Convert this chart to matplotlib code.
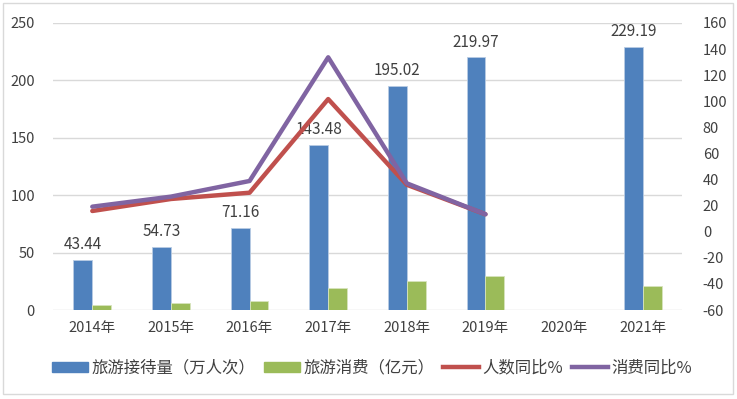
import numpy as np
import matplotlib.pyplot as plt
from matplotlib.patches import Rectangle
from matplotlib.lines import Line2D

plt.rcParams['font.family'] = ['Noto Sans CJK SC', 'DejaVu Sans']
plt.rcParams['axes.unicode_minus'] = False

years = ['2014年', '2015年', '2016年', '2017年', '2018年', '2019年', '2020年', '2021年']
visitors = [43.44, 54.73, 71.16, 143.48, 195.02, 219.97, np.nan, 229.19]   # 万人次
spending = [4.4, 5.8, 8.1, 19.2, 25.5, 29.6, np.nan, 21.2]                # 亿元
visitors_yoy = [15.9, 25.1, 29.9, 101.7, 36.0, 13.4, np.nan, np.nan]
spending_yoy = [19.2, 26.9, 38.9, 133.7, 37.1, 13.4, np.nan, np.nan]

BLUE, GREEN, RED, PURPLE = '#4F81BD', '#9BBB59', '#C0504D', '#8064A2'
TXT = '#404040'

fig = plt.figure(figsize=(7.37, 3.99), dpi=100)
fig.patches.append(Rectangle((3/737, 5/399), 730/737, 391/399, transform=fig.transFigure,
                             fill=False, edgecolor='#D9D9D9', lw=1))
ax = fig.add_axes([53/737, 1-310/399, 629/737, 287/399])
ax2 = ax.twinx()

x = np.arange(len(years))
w = 0.24
ax.bar(x - w/2, visitors, w, color=BLUE, edgecolor='#B8CCE4', lw=0.6, zorder=2)
ax.bar(x + w/2, spending, w, color=GREEN, edgecolor='#D7E4BD', lw=0.6, zorder=2)
for xi, v in zip(x, visitors):
    if not np.isnan(v):
        ax.text(xi - w/2, v + 6, f'{v:.2f}', ha='center', va='bottom', fontsize=11, color=TXT)

ax2.plot(x, visitors_yoy, color=RED, lw=3.2, solid_capstyle='round', zorder=3)
ax2.plot(x, spending_yoy, color=PURPLE, lw=3.2, solid_capstyle='round', zorder=4)

ax.set_xlim(-0.5, len(years) - 0.5)
ax.set_ylim(0, 250)
ax.set_yticks(range(0, 251, 50))
ax2.set_ylim(-60, 160)
ax2.set_yticks(range(-60, 161, 20))
ax.set_xticks(x)
ax.set_xticklabels(years)
ax.grid(axis='y', color='#D9D9D9', lw=1)
ax.set_axisbelow(True)
for a in (ax, ax2):
    for s in a.spines.values():
        s.set_visible(False)
    a.tick_params(length=0, labelsize=10.5, labelcolor=TXT)
ax.tick_params(axis='y', pad=13)
ax.tick_params(axis='x', pad=8)
ax2.tick_params(axis='y', pad=15)

handles = [Rectangle((0, 0), 1, 1, color=BLUE), Rectangle((0, 0), 1, 1, color=GREEN),
           Line2D([], [], color=RED, lw=3.2), Line2D([], [], color=PURPLE, lw=3.2)]
labels = ['旅游接待量（万人次）', '旅游消费（亿元）', '人数同比%', '消费同比%']
fig.legend(handles, labels, loc='center', bbox_to_anchor=(372/737, 1-368/399), ncol=4,
           frameon=False, fontsize=11.8, labelcolor=TXT, handlelength=2.2, handleheight=0.6,
           handletextpad=0.2, columnspacing=0.55)

fig.savefig('out.png', dpi=100)
